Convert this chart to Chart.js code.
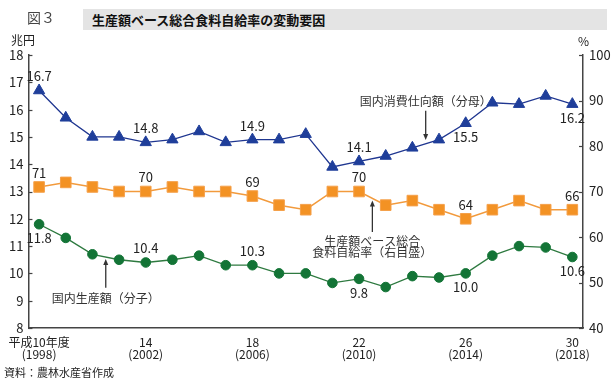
<!DOCTYPE html>
<html lang="ja">
<head>
<meta charset="utf-8">
<script src="https://cdn.jsdelivr.net/npm/chart.js@4.4.1/dist/chart.umd.min.js"></script>
<style>
html, body { margin: 0; padding: 0; background: #fff; }
#wrap { position: relative; width: 616px; height: 384px; font-family: "Noto Sans CJK JP", "Noto Sans", sans-serif; color: #222; }
#wrap canvas { position: absolute; left: 0; top: 0; }
.txt { position: absolute; white-space: nowrap; }
#fig { left: 27px; top: 7px; font-size: 14px; color: #444; }
#bar { left: 83px; top: 9px; width: 515px; height: 21px; background: #e4e4e4; font-size: 13px; font-weight: bold; line-height: 21px; padding-left: 9px; color: #111; }
#unitL { left: 11px; top: 31px; font-size: 12px; }
#unitR { left: 578px; top: 32px; font-size: 12px; }
#src { left: 4px; top: 364px; font-size: 11px; }
</style>
</head>
<body>
<div id="wrap">
  <canvas id="chart" width="616" height="384"></canvas>
  <div class="txt" id="fig">図３</div>
  <div class="txt" id="bar">生産額ベース総合食料自給率の変動要因</div>
  <div class="txt" id="unitL">兆円</div>
  <div class="txt" id="unitR">%</div>
  <div class="txt" id="src">資料：農林水産省作成</div>
</div>
<script>
// 年度
const years = [1998, 1999, 2000, 2001, 2002, 2003, 2004, 2005, 2006, 2007, 2008,
               2009, 2010, 2011, 2012, 2013, 2014, 2015, 2016, 2017, 2018];
const tickYears = [1998, 2002, 2006, 2010, 2014, 2018];
const tickLabels = [['平成10年度', '(1998)'], ['14', '(2002)'], ['18', '(2006)'],
                    ['22', '(2010)'], ['26', '(2014)'], ['30', '(2018)']];

// 国内消費仕向額（分母） 兆円
const consumption = [16.7, 15.7, 15.0, 15.0, 14.8, 14.9, 15.2, 14.8, 14.9, 14.9, 15.1,
                     13.9, 14.1, 14.3, 14.6, 14.9, 15.5, 16.25, 16.2, 16.5, 16.2];
// 生産額ベース総合食料自給率 %
const selfRate = [71, 72, 71, 70, 70, 71, 70, 70, 69, 67, 66,
                  70, 70, 67, 68, 66, 64, 66, 68, 66, 66];
// 国内生産額（分子） 兆円
const production = [11.8, 11.3, 10.7, 10.5, 10.4, 10.5, 10.65, 10.3, 10.3, 10.0, 10.0,
                    9.65, 9.8, 9.5, 9.9, 9.85, 10.0, 10.65, 11.0, 10.95, 10.6];

// 数値ラベル
const labelYears = [1998, 2002, 2006, 2010, 2014, 2018];
const consumptionLabels = ['16.7', '14.8', '14.9', '14.1', '15.5', '16.2'];
const selfRateLabels = ['71', '70', '69', '70', '64', '66'];
const productionLabels = ['11.8', '10.4', '10.3', '9.8', '10.0', '10.6'];

const FONT = '"Noto Sans CJK JP", "Noto Sans", sans-serif';

function toXY(vals) {
  return years.map((y, i) => ({ x: y, y: vals[i] }));
}

// label placement: -1 above, 1 below
const labelSides = [
  [-1, -1, -1, -1, 1, 1],
  [-1, -1, -1, -1, -1, -1],
  [1, -1, -1, 1, 1, 1]
];
const labelTexts = [consumptionLabels, selfRateLabels, productionLabels];

function arrow(ctx, x, yFrom, yTo) {
  const dir = yTo > yFrom ? 1 : -1;
  ctx.beginPath();
  ctx.moveTo(x, yFrom);
  ctx.lineTo(x, yTo - dir * 5);
  ctx.stroke();
  ctx.beginPath();
  ctx.moveTo(x, yTo);
  ctx.lineTo(x - 2.5, yTo - dir * 6);
  ctx.lineTo(x + 2.5, yTo - dir * 6);
  ctx.closePath();
  ctx.fill();
}

const extras = {
  id: 'extras',
  afterDraw(chart) {
    const ctx = chart.ctx;
    const xs = chart.scales.x, yl = chart.scales.y, yr = chart.scales.y1;
    const area = chart.chartArea;
    ctx.save();

    // inward tick marks
    ctx.strokeStyle = '#444';
    ctx.lineWidth = 1.2;
    yl.ticks.forEach(t => {
      const py = Math.round(yl.getPixelForValue(t.value)) + 0.5;
      ctx.beginPath(); ctx.moveTo(area.left, py); ctx.lineTo(area.left + 4, py); ctx.stroke();
    });
    yr.ticks.forEach(t => {
      const py = Math.round(yr.getPixelForValue(t.value)) + 0.5;
      ctx.beginPath(); ctx.moveTo(area.right, py); ctx.lineTo(area.right - 4, py); ctx.stroke();
    });

    // value labels
    ctx.font = '13px ' + FONT;
    ctx.fillStyle = '#222';
    ctx.textAlign = 'center';
    ctx.textBaseline = 'middle';
    labelTexts.forEach((texts, d) => {
      const meta = chart.getDatasetMeta(d);
      labelYears.forEach((yr0, k) => {
        const pt = meta.data[years.indexOf(yr0)];
        ctx.fillText(texts[k], pt.x, pt.y + labelSides[d][k] * 14);
      });
    });

    // notes
    ctx.font = '12px ' + FONT;
    ctx.fillStyle = '#333';
    ctx.strokeStyle = '#333';
    ctx.lineWidth = 1.3;

    let ax = xs.getPixelForValue(2012.5);
    ctx.fillText('国内消費仕向額（分母）', ax, yl.getPixelForValue(16.31));
    arrow(ctx, ax, yl.getPixelForValue(15.96), yl.getPixelForValue(14.89));

    ax = xs.getPixelForValue(2010.5);
    ctx.fillText('生産額ベース総合', ax, yr.getPixelForValue(59.1));
    ctx.fillText('食料自給率（右目盛）', ax, yr.getPixelForValue(56.6));
    arrow(ctx, ax, yr.getPixelForValue(61.1), yr.getPixelForValue(68.0));

    ax = xs.getPixelForValue(2000.5);
    ctx.fillText('国内生産額（分子）', ax, yl.getPixelForValue(9.1));
    arrow(ctx, ax, yl.getPixelForValue(9.47), yl.getPixelForValue(10.53));

    ctx.restore();
  }
};

new Chart(document.getElementById('chart'), {
  type: 'line',
  data: {
    datasets: [
      {
        label: '国内消費仕向額（分母）',
        data: toXY(consumption),
        yAxisID: 'y',
        borderColor: '#1f3690',
        borderWidth: 1.3,
        backgroundColor: '#1f3e9a',
        pointStyle: 'triangle',
        pointRadius: 6.5,
        pointBorderColor: '#1f3e9a',
        pointBorderWidth: 1
      },
      {
        label: '生産額ベース総合食料自給率',
        data: toXY(selfRate),
        yAxisID: 'y1',
        borderColor: '#f29a3c',
        borderWidth: 1.5,
        backgroundColor: '#f39224',
        pointStyle: 'rect',
        pointRadius: 7.5,
        pointBorderColor: '#f5a04a',
        pointBorderWidth: 1
      },
      {
        label: '国内生産額（分子）',
        data: toXY(production),
        yAxisID: 'y',
        borderColor: '#2e7a40',
        borderWidth: 1.3,
        backgroundColor: '#137436',
        pointStyle: 'circle',
        pointRadius: 4.8,
        pointBorderColor: '#137436',
        pointBorderWidth: 1
      }
    ]
  },
  options: {
    responsive: false,
    animation: false,
    events: [],
    layout: { padding: { top: 55, left: 0, right: 0, bottom: 0 } },
    plugins: { legend: { display: false }, tooltip: { enabled: false } },
    scales: {
      x: {
        type: 'linear',
        min: 1997.6,
        max: 2018.4,
        afterBuildTicks: s => { s.ticks = tickYears.map(v => ({ value: v })); },
        afterFit: s => { s.height = 56; },
        grid: { display: false, drawTicks: false },
        border: { display: true, color: '#444', width: 1.5 },
        ticks: {
          autoSkip: false,
          maxRotation: 0,
          padding: 8,
          color: '#222',
          font: { family: FONT, size: 12, lineHeight: 1.0 },
          callback: v => tickLabels[tickYears.indexOf(v)]
        }
      },
      y: {
        position: 'left',
        min: 8,
        max: 18,
        afterFit: s => { s.width = 23; },
        grid: { display: false, drawTicks: false },
        border: { display: true, color: '#444', width: 1.5 },
        ticks: { stepSize: 1, padding: 5, color: '#222', font: { family: FONT, size: 13 } }
      },
      y1: {
        position: 'right',
        min: 40,
        max: 100,
        afterFit: s => { s.width = 33; },
        grid: { display: false, drawTicks: false },
        border: { display: true, color: '#444', width: 1.5 },
        ticks: { stepSize: 10, padding: 6, color: '#222', font: { family: FONT, size: 13 } }
      }
    }
  },
  plugins: [extras]
});
</script>
</body>
</html>
